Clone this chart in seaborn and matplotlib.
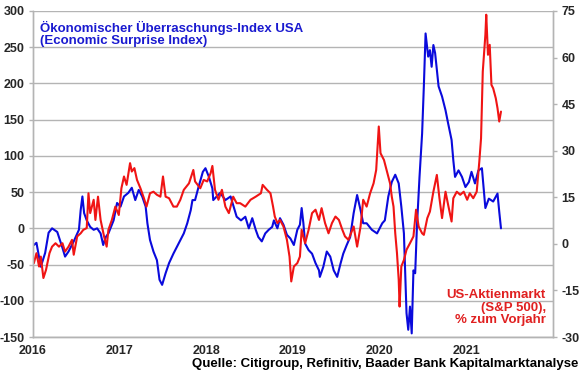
import numpy as np
import pandas as pd
import matplotlib
matplotlib.use("Agg")
import matplotlib.pyplot as plt
import seaborn as sns

# Economic Surprise Index USA (left axis)
surprise_years = [
    2016.01, 2016.04, 2016.09, 2016.14, 2016.18, 2016.22, 2016.28, 2016.34, 2016.37, 2016.41,
    2016.47, 2016.53, 2016.55, 2016.57, 2016.59, 2016.62, 2016.66, 2016.70, 2016.74, 2016.78,
    2016.81, 2016.84, 2016.87, 2016.93, 2016.97, 2017.01, 2017.05, 2017.10, 2017.14, 2017.18,
    2017.22, 2017.26, 2017.30, 2017.32, 2017.35, 2017.39, 2017.43, 2017.46, 2017.49, 2017.53,
    2017.57, 2017.62, 2017.68, 2017.74, 2017.78, 2017.82, 2017.84, 2017.87, 2017.91, 2017.96,
    2017.99, 2018.03, 2018.07, 2018.08, 2018.16, 2018.22, 2018.28, 2018.35, 2018.40, 2018.45,
    2018.49, 2018.53, 2018.57, 2018.60, 2018.64, 2018.68, 2018.72, 2018.76, 2018.78, 2018.82,
    2018.85, 2018.89, 2018.93, 2018.97, 2019.01, 2019.05, 2019.08, 2019.10, 2019.12, 2019.14,
    2019.18, 2019.22, 2019.26, 2019.30, 2019.31, 2019.35, 2019.39, 2019.43, 2019.47, 2019.51,
    2019.55, 2019.58, 2019.62, 2019.66, 2019.70, 2019.74, 2019.78, 2019.81, 2019.85, 2019.91,
    2019.97, 2020.03, 2020.06, 2020.10, 2020.14, 2020.18, 2020.22, 2020.25, 2020.28, 2020.30,
    2020.31, 2020.33, 2020.35, 2020.37, 2020.39, 2020.41, 2020.43, 2020.46, 2020.49, 2020.51,
    2020.53, 2020.56, 2020.58, 2020.60, 2020.62, 2020.64, 2020.68, 2020.72, 2020.76, 2020.79,
    2020.83, 2020.85, 2020.87, 2020.91, 2020.95, 2020.99, 2021.03, 2021.06, 2021.10, 2021.14,
    2021.18, 2021.22, 2021.26, 2021.31, 2021.36, 2021.38, 2021.40,
]
surprise_values = [
    -23, -20, -53, -34, -6, 0, -5, -27, -39, -32,
    -18, -2, 25, 44, 21, 11, 2, -2, 0, -7,
    -23, -12, -7, 11, 35, 30, 44, 49, 56, 39,
    53, 44, 30, 7, -16, -32, -44, -71, -78, -62,
    -48, -35, -21, -7, 7, 25, 39, 39, 57, 78,
    83, 71, 55, 39, 49, 39, 44, 16, 11, 16,
    0, 14, -2, -12, -18, -7, -2, 2, 11, 0,
    14, 5, -9, -14, -23, -2, 5, 28, 7, -21,
    -30, -35, -48, -58, -67, -53, -32, -39, -58, -67,
    -48, -35, -23, -12, 21, 46, 25, 7, 7, -2,
    -7, 7, 11, 44, 64, 74, 62, 30, -7, -81,
    -117, -140, -108, -145, -58, -62, 2, 71, 131, 196,
    269, 237, 246, 223, 253, 242, 196, 182, 163, 145,
    122, 94, 71, 80, 71, 57, 64, 78, 62, 80,
    83, 28, 41, 37, 48, 23, 0,
]

# S&P 500, % yoy (right axis)
spx_years = [
    2016.01, 2016.04, 2016.07, 2016.09, 2016.12, 2016.15, 2016.19, 2016.22, 2016.26, 2016.30,
    2016.34, 2016.37, 2016.41, 2016.45, 2016.47, 2016.51, 2016.55, 2016.58, 2016.62, 2016.64,
    2016.66, 2016.70, 2016.72, 2016.75, 2016.78, 2016.82, 2016.85, 2016.87, 2016.91, 2016.95,
    2016.99, 2017.02, 2017.05, 2017.08, 2017.12, 2017.14, 2017.17, 2017.20, 2017.24, 2017.28,
    2017.31, 2017.35, 2017.39, 2017.43, 2017.47, 2017.50, 2017.53, 2017.57, 2017.62, 2017.66,
    2017.70, 2017.74, 2017.80, 2017.85, 2017.87, 2017.93, 2017.97, 2018.01, 2018.05, 2018.07,
    2018.10, 2018.14, 2018.18, 2018.22, 2018.26, 2018.31, 2018.35, 2018.39, 2018.45, 2018.51,
    2018.57, 2018.63, 2018.65, 2018.70, 2018.74, 2018.77, 2018.79, 2018.82, 2018.85, 2018.89,
    2018.93, 2018.96, 2018.98, 2019.01, 2019.05, 2019.08, 2019.10, 2019.14, 2019.18, 2019.22,
    2019.26, 2019.30, 2019.33, 2019.37, 2019.41, 2019.45, 2019.49, 2019.53, 2019.57, 2019.60,
    2019.64, 2019.70, 2019.74, 2019.78, 2019.81, 2019.85, 2019.89, 2019.93, 2019.96, 2019.99,
    2020.01, 2020.05, 2020.08, 2020.12, 2020.14, 2020.16, 2020.18, 2020.20, 2020.22, 2020.23,
    2020.25, 2020.28, 2020.31, 2020.35, 2020.39, 2020.42, 2020.45, 2020.49, 2020.51, 2020.55,
    2020.58, 2020.62, 2020.66, 2020.69, 2020.72, 2020.76, 2020.79, 2020.83, 2020.85, 2020.89,
    2020.93, 2020.97, 2021.01, 2021.04, 2021.08, 2021.12, 2021.15, 2021.17, 2021.19, 2021.22,
    2021.23, 2021.25, 2021.27, 2021.29, 2021.31, 2021.34, 2021.36, 2021.38, 2021.40,
]
spx_values = [
    -6.2, -3.0, -7.3, -4.1, -11.0, -8.4, -3.0, -0.9, 0.2, -0.9,
    0.2, -2.5, -0.9, 1.3, -3.5, 2.4, 3.4, 4.5, 5.1, 16.3,
    9.9, 14.2, 7.7, 15.2, 7.7, 2.4, -0.9, 4.5, 7.7, 12.0,
    9.3, 17.9, 21.7, 19.0, 26.0, 23.3, 24.4, 20.6, 17.9, 14.7,
    12.0, 16.3, 16.8, 15.8, 15.2, 21.7, 15.2, 14.7, 12.0, 12.0,
    14.2, 17.4, 19.5, 23.8, 20.1, 17.9, 20.6, 20.1, 22.8, 25.1,
    17.4, 14.2, 17.4, 12.0, 9.9, 15.2, 13.1, 13.1, 12.0, 14.2,
    15.2, 16.3, 19.0, 17.4, 16.3, 12.0, 8.8, 6.7, 7.7, 5.6,
    1.3, -4.1, -12.1, -7.3, -6.2, -4.1, 4.5, 0.2, 4.5, 9.9,
    11.0, 7.7, 11.5, 6.7, 3.4, 6.7, 8.8, 7.7, 4.5, 2.4,
    1.3, 5.6, -0.9, 5.6, 14.2, 12.0, 16.3, 19.5, 23.8, 37.8,
    29.2, 27.0, 23.8, 19.5, 15.2, 12.0, 3.4, -3.0, -11.6, -20.2,
    -7.3, -5.2, -1.9, 0.2, 2.4, 11.0, 5.6, 3.4, 2.9, 8.3,
    10.4, 16.8, 22.2, 14.7, 8.3, 16.8, 12.6, 7.2, 14.7, 16.8,
    15.8, 16.8, 14.2, 16.3, 14.7, 16.8, 26.5, 34.0, 55.5, 67.3,
    73.8, 60.9, 64.1, 51.2, 50.1, 46.9, 43.7, 39.4, 42.6,
]

year_ticks = [2016, 2017, 2018, 2019, 2020, 2021]
left_ticks = [-150, -100, -50, 0, 50, 100, 150, 200, 250, 300]
right_ticks = [-30, -15, 0, 15, 30, 45, 60, 75]

blue = "#0a0adc"
red = "#f01414"
grey = "#b4b4b4"

sns.set_style("white")
plt.rcParams["font.family"] = ["Liberation Sans", "DejaVu Sans"]
plt.rcParams["font.weight"] = "bold"
plt.rcParams["axes.unicode_minus"] = False

surprise_df = pd.DataFrame({"year": surprise_years, "value": surprise_values})
spx_df = pd.DataFrame({"year": spx_years, "value": spx_values})

fig = plt.figure(figsize=(5.8, 3.75), dpi=100)
ax = fig.add_axes([0.0569, 0.1013, 0.8965, 0.8694])
ax2 = ax.twinx()

sns.lineplot(data=surprise_df, x="year", y="value", ax=ax, color=blue,
             linewidth=1.5, estimator=None, sort=False)
sns.lineplot(data=spx_df, x="year", y="value", ax=ax2, color=red,
             linewidth=1.5, estimator=None, sort=False)

ax.set_xlim(2016, 2022)
ax.set_ylim(-150, 300)
ax2.set_ylim(-30, 75)
ax.set_xticks(year_ticks)
ax.set_xticklabels([str(y) for y in year_ticks])
ax.set_yticks(left_ticks)
ax2.set_yticks(right_ticks)

ax.yaxis.grid(True, color=grey, linewidth=1)
ax.set_axisbelow(True)
for a in (ax, ax2):
    a.set_xlabel("")
    a.set_ylabel("")
    a.spines["top"].set_visible(False)
    for side in ("left", "right", "bottom"):
        a.spines[side].set_color(grey)
        a.spines[side].set_linewidth(1)
    a.tick_params(axis="both", length=3, width=1, color=grey, labelsize=9)
ax.tick_params(axis="y", pad=3)
ax.tick_params(axis="x", pad=3)
ax2.tick_params(axis="y", pad=3)
for lab in ax.get_xticklabels() + ax.get_yticklabels() + ax2.get_yticklabels():
    lab.set_fontweight("bold")

fig.text(0.069, 0.945, "Ökonomischer Überraschungs-Index USA\n(Economic Surprise Index)",
         color="#1a1ad0", fontsize=9.5, fontweight="bold", va="top", ha="left",
         linespacing=1.05)
fig.text(0.941, 0.228, "US-Aktienmarkt\n(S&P 500),\n% zum Vorjahr",
         color="#e02020", fontsize=9.5, fontweight="bold", va="top", ha="right",
         multialignment="right", linespacing=1.05)
fig.text(0.997, 0.028, "Quelle: Citigroup, Refinitiv, Baader Bank Kapitalmarktanalyse",
         color="black", fontsize=9.5, fontweight="bold", va="center", ha="right")

fig.savefig("out.png", dpi=100)
